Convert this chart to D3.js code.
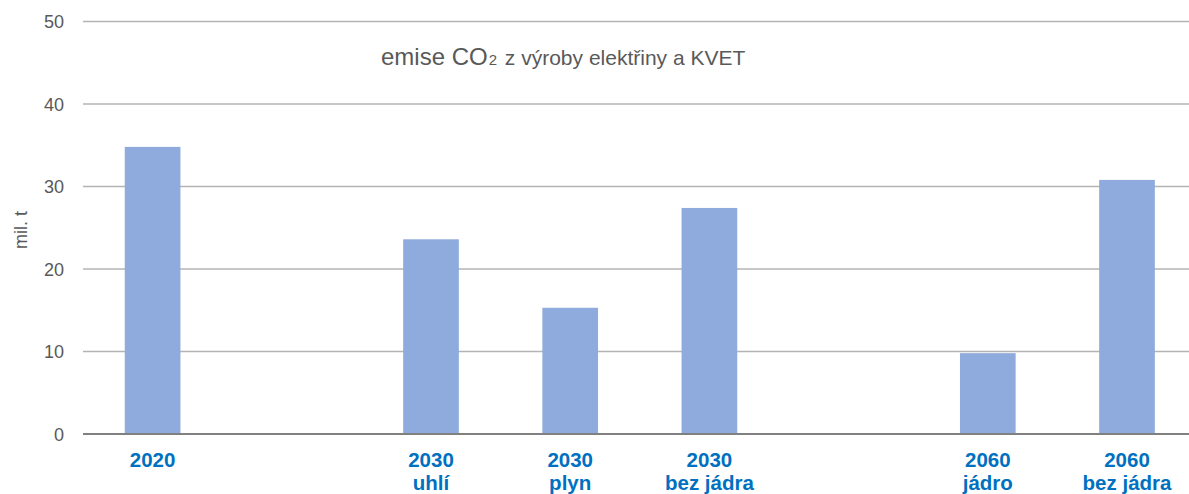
<!DOCTYPE html>
<html><head><meta charset="utf-8">
<script src="https://cdn.jsdelivr.net/npm/d3@7"></script>
<style>body{margin:0;background:#fff;} svg{display:block;font-family:"Liberation Sans",Arial,sans-serif;}</style>
</head><body>
<svg id="c" width="1189" height="494"></svg>
<script>
const categories = ["2020","gap1","2030 uhlí","2030 plyn","2030 bez jádra","gap2","2060 jádro","2060 bez jádra"];
const labelLines = [["2020"],[],["2030","uhlí"],["2030","plyn"],["2030","bez jádra"],[],["2060","jádro"],["2060","bez jádra"]];
const values = [34.8, null, 23.6, 15.3, 27.4, null, 9.8, 30.8];
const yTicks = [0,10,20,30,40,50];

const svg = d3.select("#c");
const x = d3.scaleBand().domain(categories).range([83, 83+8*139.2]).paddingInner(0.6).paddingOuter(0.3);
const y = d3.scaleLinear().domain([0,50]).range([434, 21.5]);

// gridlines
svg.append("g").selectAll("line").data(yTicks.filter(d=>d>0)).join("line")
  .attr("x1",83).attr("x2",1189).attr("y1",d=>y(d)).attr("y2",d=>y(d))
  .attr("stroke","#b4b4b4").attr("stroke-width",1.3);

// bars
svg.append("g").selectAll("rect").data(categories.map((c,i)=>({c,v:values[i]})).filter(d=>d.v!=null)).join("rect")
  .attr("x",d=>x(d.c)).attr("width",x.bandwidth())
  .attr("y",d=>y(d.v)).attr("height",d=>y(0)-y(d.v))
  .attr("fill","#8faadc");

// baseline
svg.append("line").attr("x1",83).attr("x2",1189).attr("y1",y(0)).attr("y2",y(0))
  .attr("stroke","#808080").attr("stroke-width",1.8);

// y tick labels
svg.append("g").selectAll("text").data(yTicks).join("text")
  .attr("x",64).attr("y",d=>y(d)+6.5).attr("text-anchor","end")
  .attr("font-size",18).attr("fill","#595959").text(d=>d);

// y axis title
svg.append("text").attr("transform","translate(27,230) rotate(-90)").attr("text-anchor","middle")
  .attr("font-size",18).attr("fill","#595959").text("mil. t");

// x labels
const xl = svg.append("g");
categories.forEach((c,i)=>{
  const cx = x(c)+x.bandwidth()/2;
  labelLines[i].forEach((t,j)=>{
    xl.append("text").attr("x",cx).attr("y",467+j*23).attr("text-anchor","middle")
      .attr("font-size",20.5).attr("font-weight","bold").attr("fill","#0070c0").text(t);
  });
});

// title
const title = svg.append("text").attr("x",381).attr("y",65).attr("text-anchor","start").attr("fill","#595959");
title.append("tspan").attr("font-size",24).text("emise CO");
title.append("tspan").attr("font-size",15).attr("dx",1).text("2");
title.append("tspan").attr("font-size",21).attr("dx",2).text(" z výroby elektřiny a KVET");
</script>
</body></html>
